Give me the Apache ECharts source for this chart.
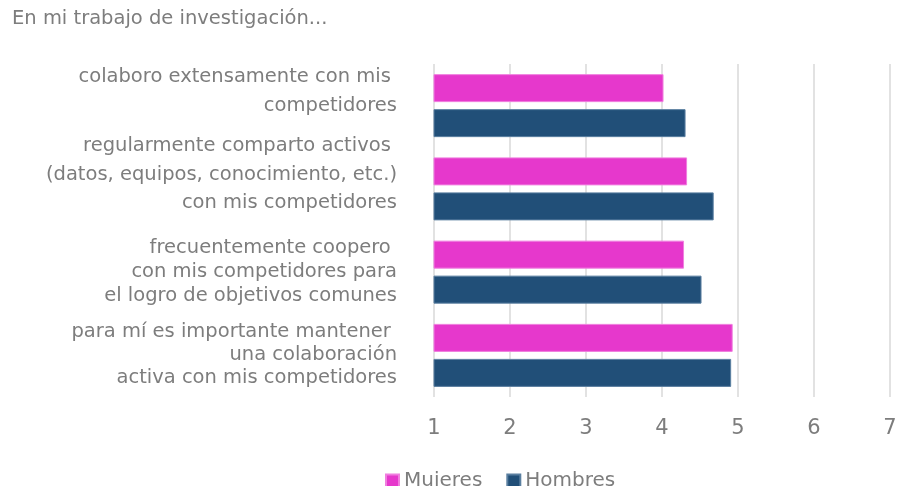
<!DOCTYPE html>
<html>
<head>
<meta charset="utf-8">
<script src="https://cdn.jsdelivr.net/npm/echarts@6/dist/echarts.min.js"></script>
<style>
    html, body { margin: 0; padding: 0; background: #fff; }
    #chart { width: 915px; height: 486px; }
</style>
</head>
<body>
<div id="chart"></div>
<script>
// preguntas (de arriba a abajo)
const categories = [
    'colaboro extensamente con mis \ncompetidores',
    'regularmente comparto activos \n(datos, equipos, conocimiento, etc.)\ncon mis competidores',
    'frecuentemente coopero \ncon mis competidores para\nel logro de objetivos comunes',
    'para mí es importante mantener \nuna colaboración\nactiva con mis competidores'
];
const mujeres = [4.02, 4.33, 4.29, 4.93];
const hombres = [4.31, 4.68, 4.52, 4.91];
const seriesNames = ['Mujeres', 'Hombres'];
const xTicks = [1, 2, 3, 4, 5, 6, 7];

// Excel coloca las etiquetas algo desiguales: interlineado por etiqueta
// y una línea vacía al final para subir las dos primeras
const labelLineHeight = [29, 28.5, 24, 23];
const labelTail = ['\n', '\n', '', ''];

const gray = '#7d7d7d';
const font = 'DejaVu Sans';

const chart = echarts.init(document.getElementById('chart'));

const options = {
    animation: false,
    title: {
        text: 'En mi trabajo de investigación...',
        left: 7,
        top: 4,
        textStyle: {
            color: gray,
            fontSize: 19.5,
            fontWeight: 'normal',
            fontFamily: font
        }
    },
    legend: {
        data: seriesNames,
        left: 380,
        top: 466,
        icon: 'rect',
        itemWidth: 13,
        itemHeight: 13,
        itemGap: 24,
        textStyle: {
            color: gray,
            fontSize: 20,
            fontFamily: font
        }
    },
    grid: {
        left: 434,
        top: 64,
        width: 456,
        height: 333
    },
    xAxis: {
        type: 'value',
        min: xTicks[0],
        max: xTicks[xTicks.length - 1],
        interval: 1,
        axisLine: {show: false},
        axisTick: {show: false},
        splitLine: {
            lineStyle: {color: '#d9d9d9', width: 1.5}
        },
        axisLabel: {
            color: gray,
            fontSize: 21,
            fontFamily: font,
            margin: 21
        }
    },
    yAxis: {
        type: 'category',
        inverse: true,
        data: categories.map((c, i) => ({value: c, textStyle: {lineHeight: labelLineHeight[i]}})),
        axisLine: {show: false},
        axisTick: {show: false},
        axisLabel: {
            interval: 0,
            hideOverlap: false,
            color: gray,
            fontSize: 19.5,
            fontFamily: font,
            margin: 37,
            align: 'right',
            formatter: (value, index) => value + labelTail[index]
        }
    },
    series: [
        {
            name: seriesNames[0],
            type: 'bar',
            data: mujeres,
            barWidth: 28,
            barGap: '25%',
            itemStyle: {color: '#e638cc', borderColor: '#f07fdf', borderWidth: 1}
        },
        {
            name: seriesNames[1],
            type: 'bar',
            data: hombres,
            barWidth: 28,
            barGap: '25%',
            itemStyle: {color: '#214f78', borderColor: '#5a7fa0', borderWidth: 1}
        }
    ]
};

chart.setOption(options);
</script>
</body>
</html>
